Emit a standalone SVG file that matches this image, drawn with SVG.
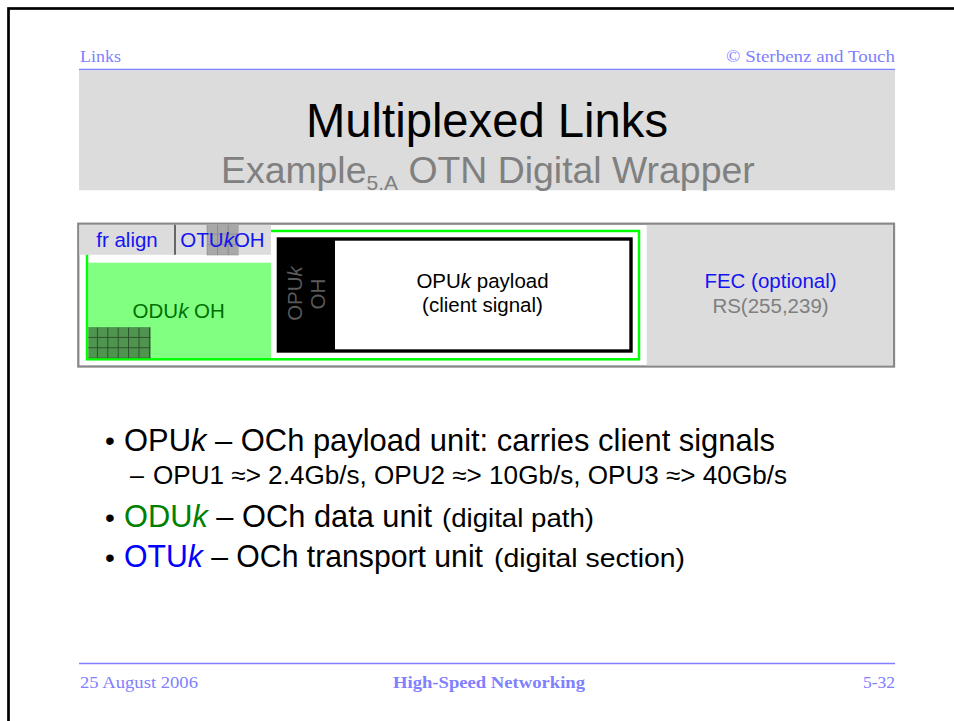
<svg xmlns="http://www.w3.org/2000/svg" width="954" height="721" viewBox="0 0 954 721">
  <style>
    .hdr { font-family: "Liberation Serif", "Times New Roman", serif; font-size: 17.5px; fill: #8080ff; }
    .sans { font-family: "Liberation Sans", Arial, sans-serif; }
    .lbl { font-family: "Liberation Sans", Arial, sans-serif; font-size: 20.5px; }
    .it { font-style: italic; }
    .body { font-family: "Liberation Sans", Arial, sans-serif; fill: #000; }
    .rule { stroke: #8080ff; stroke-width: 1.5; }
  </style>
  <defs>
    <pattern id="hatchGray" patternUnits="userSpaceOnUse" x="206.5" y="223" width="10.6" height="10.6">
      <rect width="10.6" height="10.6" fill="#a8a8a8"/>
      <path d="M0 0.5 H10.6 M0.5 0 V10.6" stroke="#8a8a8a" stroke-width="1"/>
    </pattern>
    <pattern id="hatchGreen" patternUnits="userSpaceOnUse" x="86.5" y="326.5" width="10.4" height="10.4">
      <rect width="10.4" height="10.4" fill="#4f954f"/>
      <path d="M0 0.5 H10.4 M0.5 0 V10.4" stroke="#2b4f2b" stroke-width="1"/>
    </pattern>
  </defs>

  <!-- page frame -->
  <rect x="8.5" y="8.5" width="1000" height="1000" fill="#fff" stroke="#000" stroke-width="2.7"/>

  <!-- header -->
  <g id="header">
    <text class="hdr" x="80" y="62" textLength="41" lengthAdjust="spacingAndGlyphs">Links</text>
    <text class="hdr" x="726" y="62" textLength="169" lengthAdjust="spacingAndGlyphs">© Sterbenz and Touch</text>
    <line class="rule" x1="79" y1="69.5" x2="895" y2="69.5"/>
  </g>

  <!-- title band -->
  <g id="title">
    <rect x="79" y="70.3" width="816" height="120" fill="#dcdcdc"/>
    <text class="sans" x="487" y="137" font-size="48" text-anchor="middle" fill="#000" textLength="362" lengthAdjust="spacingAndGlyphs">Multiplexed Links</text>
    <text class="sans" x="221" y="183" font-size="37.4" fill="#808080">Example<tspan font-size="21" dy="7">5.A</tspan><tspan dy="-7">  OTN Digital Wrapper</tspan></text>
  </g>

  <!-- frame structure -->
  <g id="frame">
    <rect x="78.3" y="223.7" width="815.7" height="142.8" fill="#fff" stroke="#888" stroke-width="2.3"/>
  </g>

  <g id="fec">
    <rect x="646.7" y="224.9" width="246.2" height="140.4" fill="#dcdcdc"/>
    <text class="lbl" x="770.5" y="288.3" text-anchor="middle" fill="#1414f0">FEC (optional)</text>
    <text class="lbl" x="770.5" y="312.5" text-anchor="middle" fill="#808080">RS(255,239)</text>
  </g>

  <g id="oduk">
    <rect x="88.3" y="262.7" width="182.7" height="95.5" fill="#80ff80"/>
    <rect x="87" y="231" width="552" height="128.3" fill="none" stroke="#00ff00" stroke-width="2.5"/>
    <rect x="88.3" y="327.3" width="62.4" height="30.9" fill="url(#hatchGreen)"/>
    <text class="lbl" x="178.7" y="317.7" text-anchor="middle" fill="#007000">ODU<tspan class="it">k</tspan> OH</text>
  </g>

  <g id="fr-align">
    <rect x="79.4" y="224.8" width="95.6" height="30" fill="#dcdcdc"/>
    <text class="lbl" x="127" y="246.5" text-anchor="middle" fill="#1414f0">fr align</text>
  </g>

  <g id="otuk-oh">
    <rect x="175" y="224.8" width="96" height="30" fill="#dcdcdc"/>
    <rect x="206.7" y="224.8" width="31.8" height="30.5" fill="url(#hatchGray)"/>
    <line x1="175" y1="224.8" x2="175" y2="254.8" stroke="#666" stroke-width="2"/>
    <text class="lbl" x="222.5" y="246.5" text-anchor="middle" fill="#1414f0">OTU<tspan class="it">k</tspan>OH</text>
  </g>

  <g id="opuk">
    <rect x="276.7" y="237.3" width="356" height="115.4" fill="#000"/>
    <rect x="335" y="240.7" width="294.3" height="108.6" fill="#fff"/>
    <text class="lbl" transform="translate(301.5,293.5) rotate(-90)" text-anchor="middle" fill="#5a5a5a">OPU<tspan class="it">k</tspan></text>
    <text class="lbl" transform="translate(325,294) rotate(-90)" text-anchor="middle" fill="#5a5a5a">OH</text>
    <text class="lbl" x="482.5" y="288.3" text-anchor="middle" fill="#000">OPU<tspan class="it">k</tspan> payload</text>
    <text class="lbl" x="482.5" y="311.5" text-anchor="middle" fill="#000">(client signal)</text>
  </g>

  <!-- bullet list -->
  <g id="bullets">
    <text class="body" x="105" y="450" font-size="28">•</text>
    <text class="body" x="124" y="451" font-size="32" textLength="651" lengthAdjust="spacingAndGlyphs">OPU<tspan class="it">k</tspan> – OCh payload unit: carries client signals</text>
    <text class="body" x="130" y="484" font-size="25">–</text>
    <text class="body" x="153" y="484" font-size="25" textLength="634" lengthAdjust="spacingAndGlyphs">OPU1 ≈&gt; 2.4Gb/s, OPU2 ≈&gt; 10Gb/s, OPU3 ≈&gt; 40Gb/s</text>
    <text class="body" x="105" y="527" font-size="28">•</text>
    <text class="body" x="124" y="527" font-size="32" textLength="308" lengthAdjust="spacingAndGlyphs"><tspan fill="#008000">ODU<tspan class="it">k</tspan></tspan> – OCh data unit</text>
    <text class="body" x="442" y="527" font-size="26" textLength="152" lengthAdjust="spacingAndGlyphs">(digital path)</text>
    <text class="body" x="105" y="567" font-size="28">•</text>
    <text class="body" x="124" y="567" font-size="32" textLength="359" lengthAdjust="spacingAndGlyphs"><tspan fill="#0000ff">OTU<tspan class="it">k</tspan></tspan> – OCh transport unit</text>
    <text class="body" x="494" y="567" font-size="26" textLength="191" lengthAdjust="spacingAndGlyphs">(digital section)</text>
  </g>

  <!-- footer -->
  <g id="footer">
    <line class="rule" x1="79" y1="663.5" x2="895" y2="663.5"/>
    <text class="hdr" x="80" y="688" textLength="118" lengthAdjust="spacingAndGlyphs">25 August 2006</text>
    <text class="hdr" x="393" y="688" font-weight="bold" textLength="192" lengthAdjust="spacingAndGlyphs">High-Speed Networking</text>
    <text class="hdr" x="895" y="688" text-anchor="end">5-32</text>
  </g>
</svg>
